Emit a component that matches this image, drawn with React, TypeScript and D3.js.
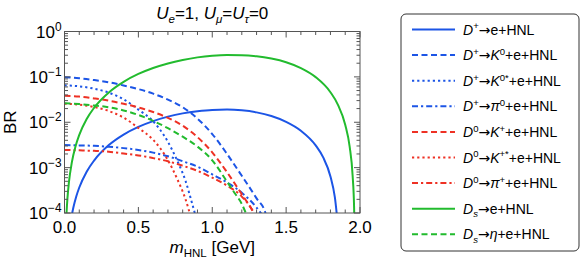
import * as React from 'react';
import * as d3 from 'd3';

// Values (m in GeV, BR)
const xTickValues = [0, 0.5, 1.0, 1.5, 2.0];
const yTickExponents = [0, -1, -2, -3, -4];

// D+ -> e + HNL
const dpE_m = [0.05, 0.06, 0.08, 0.1, 0.15, 0.2, 0.3, 0.4, 0.5, 0.6, 0.7, 0.8, 0.9, 1.0, 1.1, 1.2, 1.3, 1.4, 1.5, 1.6, 1.7, 1.75, 1.8, 1.83, 1.85];
const dpE_br = [9.16e-5, 1.32e-4, 2.34e-4, 3.65e-4, 8.15e-4, 1.43e-3, 3.14e-3, 5.35e-3, 7.91e-3, 0.0106, 0.0133, 0.0157, 0.0175, 0.0187, 0.019, 0.0183, 0.0165, 0.0137, 0.0102, 0.0065, 0.0031, 0.0017, 6.4e-4, 2.2e-4, 5.5e-5];

// D+ -> K0 + e + HNL
const dpK_m = [0, 0.1, 0.2, 0.3, 0.4, 0.5, 0.6, 0.7, 0.8, 0.9, 1.0, 1.1, 1.2, 1.3, 1.36, 1.37];
const dpK_br = [0.098, 0.0933, 0.0851, 0.0759, 0.0646, 0.0537, 0.0427, 0.0316, 0.0214, 0.012, 0.0055, 0.002, 0.00066, 0.00021, 0.0001, 0.00005];

// D+ -> K0* + e + HNL
const dpKs_m = [0, 0.1, 0.2, 0.3, 0.4, 0.5, 0.6, 0.7, 0.76, 0.82, 0.86, 0.89];
const dpKs_br = [0.065, 0.062, 0.055, 0.045, 0.032, 0.019, 0.0105, 0.0037, 0.0015, 0.0005, 0.00018, 0.00008];

// D+ -> pi0 + e + HNL
const dpPi_m = [0, 0.1, 0.2, 0.3, 0.4, 0.5, 0.6, 0.7, 0.8, 0.9, 1.0, 1.1, 1.2, 1.3, 1.34];
const dpPi_br = [3.16e-3, 3.09e-3, 3.02e-3, 2.88e-3, 2.69e-3, 2.45e-3, 2.14e-3, 1.78e-3, 1.38e-3, 1.05e-3, 7.1e-4, 4.7e-4, 2.8e-4, 1.32e-4, 8.9e-5];

// D0 -> K+ + e + HNL
const d0K_m = [0, 0.1, 0.2, 0.3, 0.4, 0.5, 0.6, 0.7, 0.8, 0.9, 1.0, 1.1, 1.2, 1.3, 1.36];
const d0K_br = [0.0386, 0.0368, 0.0335, 0.0299, 0.0255, 0.0212, 0.0168, 0.0125, 0.0084, 0.0047, 0.00217, 0.00079, 0.00026, 0.000083, 0.00004];

// D0 -> K+* + e + HNL
const d0Ks_m = [0, 0.1, 0.2, 0.3, 0.4, 0.5, 0.6, 0.7, 0.76, 0.82, 0.86];
const d0Ks_br = [0.0256, 0.0244, 0.0217, 0.0177, 0.0126, 0.0075, 0.0041, 0.00146, 0.00059, 0.000197, 0.000071];

// D0 -> pi+ + e + HNL
const d0Pi_m = [0, 0.1, 0.2, 0.3, 0.4, 0.5, 0.6, 0.7, 0.8, 0.9, 1.0, 1.1, 1.2, 1.28, 1.3];
const d0Pi_br = [2.45e-3, 2.4e-3, 2.34e-3, 2.24e-3, 2.04e-3, 1.86e-3, 1.62e-3, 1.38e-3, 1.1e-3, 8.5e-4, 6.0e-4, 4.0e-4, 2.3e-4, 1.0e-4, 7e-5];

// Ds -> e + HNL
const dsE_m = [0.01, 0.014, 0.02, 0.03, 0.05, 0.075, 0.1, 0.15, 0.2, 0.3, 0.4, 0.5, 0.6, 0.7, 0.8, 0.9, 1.0, 1.1, 1.2, 1.3, 1.4, 1.5, 1.6, 1.7, 1.8, 1.85, 1.9, 1.93, 1.95, 1.96, 1.965];
const dsE_br = [5.3e-5, 1.04e-4, 2.12e-4, 4.77e-4, 1.32e-3, 2.97e-3, 5.27e-3, 0.0118, 0.0208, 0.0455, 0.0779, 0.116, 0.157, 0.198, 0.236, 0.269, 0.292, 0.303, 0.301, 0.285, 0.253, 0.21, 0.156, 0.0987, 0.0459, 0.0245, 0.0088, 0.0029, 6.7e-4, 1.34e-4, 1.9e-5];

// Ds -> eta + e + HNL
const dsEta_m = [0, 0.1, 0.2, 0.3, 0.4, 0.5, 0.6, 0.7, 0.8, 0.9, 1.0, 1.1, 1.15, 1.2, 1.23];
const dsEta_br = [0.0263, 0.0251, 0.0234, 0.0214, 0.0182, 0.0145, 0.0107, 0.0074, 0.0048, 0.0029, 0.00145, 0.00049, 0.00028, 0.000158, 0.000095];

const FONT = '"Liberation Sans", Arial, Helvetica, sans-serif';
const ARROW_FONT = '"DejaVu Sans", sans-serif';
const BLUE = '#1c55e6';
const RED = '#ee3124';
const GREEN = '#22bb2e';
const DASHED = '6,3.5';
const DOTTED = '2.2,3';
const DASHDOT = '6,3,2.2,3';

type Part = { t: string; s?: 'i' | 'sup' | 'sub' | 'isub' | 'a' };

const AR: Part = { t: '→', s: 'a' };

const series: { m: number[]; br: number[]; color: string; dash: string | null; label: Part[] }[] = [
  { m: dpE_m, br: dpE_br, color: BLUE, dash: null, label: [{ t: 'D', s: 'i' }, { t: '+', s: 'sup' }, AR, { t: 'e+HNL' }] },
  { m: dpK_m, br: dpK_br, color: BLUE, dash: DASHED, label: [{ t: 'D', s: 'i' }, { t: '+', s: 'sup' }, AR, { t: 'K', s: 'i' }, { t: '0', s: 'sup' }, { t: '+e+HNL' }] },
  { m: dpKs_m, br: dpKs_br, color: BLUE, dash: DOTTED, label: [{ t: 'D', s: 'i' }, { t: '+', s: 'sup' }, AR, { t: 'K', s: 'i' }, { t: '0*', s: 'sup' }, { t: '+e+HNL' }] },
  { m: dpPi_m, br: dpPi_br, color: BLUE, dash: DASHDOT, label: [{ t: 'D', s: 'i' }, { t: '+', s: 'sup' }, AR, { t: 'π', s: 'i' }, { t: '0', s: 'sup' }, { t: '+e+HNL' }] },
  { m: d0K_m, br: d0K_br, color: RED, dash: DASHED, label: [{ t: 'D', s: 'i' }, { t: '0', s: 'sup' }, AR, { t: 'K', s: 'i' }, { t: '+', s: 'sup' }, { t: '+e+HNL' }] },
  { m: d0Ks_m, br: d0Ks_br, color: RED, dash: DOTTED, label: [{ t: 'D', s: 'i' }, { t: '0', s: 'sup' }, AR, { t: 'K', s: 'i' }, { t: '+*', s: 'sup' }, { t: '+e+HNL' }] },
  { m: d0Pi_m, br: d0Pi_br, color: RED, dash: DASHDOT, label: [{ t: 'D', s: 'i' }, { t: '0', s: 'sup' }, AR, { t: 'π', s: 'i' }, { t: '+', s: 'sup' }, { t: '+e+HNL' }] },
  { m: dsE_m, br: dsE_br, color: GREEN, dash: null, label: [{ t: 'D', s: 'i' }, { t: 's', s: 'isub' }, AR, { t: 'e+HNL' }] },
  { m: dsEta_m, br: dsEta_br, color: GREEN, dash: DASHED, label: [{ t: 'D', s: 'i' }, { t: 's', s: 'isub' }, AR, { t: 'η', s: 'i' }, { t: '+e+HNL' }] },
];

const titleParts: Part[] = [
  { t: 'U', s: 'i' }, { t: 'e', s: 'isub' }, { t: '=1, ' },
  { t: 'U', s: 'i' }, { t: 'μ', s: 'isub' }, { t: '=' },
  { t: 'U', s: 'i' }, { t: 'τ', s: 'isub' }, { t: '=0' },
];

// text with italic / super / subscript runs
function Rich({ parts, x, y, size, anchor = 'start' }: { parts: Part[]; x: number; y: number; size: number; anchor?: string }) {
  let shift = 0;
  return (
    <text x={x} y={y} fontSize={size} fontFamily={FONT} textAnchor={anchor} fill="#000">
      {parts.map((p, i) => {
        const small = p.s === 'sup' || p.s === 'sub' || p.s === 'isub';
        const target = p.s === 'sup' ? -0.36 * size : small ? 0.24 * size : 0;
        const dy = target - shift;
        shift = target;
        return (
          <tspan key={i} dy={dy} fontSize={small ? size * 0.68 : size}
            fontFamily={p.s === 'a' ? ARROW_FONT : undefined}
            fontStyle={p.s === 'i' || p.s === 'isub' ? 'italic' : 'normal'}>{p.t}</tspan>
        );
      })}
    </text>
  );
}

const W = 581, H = 265;
const margin = { left: 64.5, right: 221, top: 31.5, bottom: 52 };

export default function App() {
  const x0 = margin.left, x1 = W - margin.right;
  const y0 = margin.top, y1 = H - margin.bottom;

  const x = d3.scaleLinear().domain([0, 2]).range([x0, x1]);
  const y = d3.scaleLog().domain([1e-4, 1]).range([y1, y0]);

  const line = d3.line<[number, number]>()
    .x(d => x(d[0]))
    .y(d => y(d[1]))
    .curve(d3.curveMonotoneX);

  const xMinor = d3.range(0, 2.0001, 0.1);
  const yMinor: number[] = [];
  yTickExponents.slice(1).forEach(e => {
    for (let k = 2; k <= 9; k++) yMinor.push(k * Math.pow(10, e));
  });

  const major = 6, minor = 3.5;
  const axisColor = '#555';
  const tickFont = 17;

  const legX = 401, legY = 14, legW = 178, legH = 237;
  const rowY = (i: number) => 29.5 + i * 25.6;

  return (
    <svg width={W} height={H} style={{ position: 'absolute', left: 0, top: 0, background: '#fff' }}>
      <defs>
        <clipPath id="plot-clip">
          <rect x={x0} y={y0} width={x1 - x0} height={y1 - y0} />
        </clipPath>
      </defs>

      {/* curves */}
      <g clipPath="url(#plot-clip)">
        {series.map((s, i) => (
          <path key={i}
            d={line(s.m.map((m, j) => [m, s.br[j]] as [number, number])) ?? ''}
            fill="none" stroke={s.color} strokeWidth={2}
            strokeDasharray={s.dash ?? undefined} />
        ))}
      </g>

      {/* frame and ticks */}
      <rect x={x0} y={y0} width={x1 - x0} height={y1 - y0} fill="none" stroke={axisColor} strokeWidth={1} />
      <g stroke={axisColor} strokeWidth={1}>
        {xMinor.map((v, i) => {
          const len = i % 5 === 0 ? major : minor;
          const px = x(v);
          return (
            <g key={'xt' + i}>
              <line x1={px} x2={px} y1={y1} y2={y1 - len} />
              <line x1={px} x2={px} y1={y0} y2={y0 + len} />
            </g>
          );
        })}
        {yTickExponents.map(e => {
          const py = y(Math.pow(10, e));
          return (
            <g key={'yt' + e}>
              <line x1={x0} x2={x0 + major} y1={py} y2={py} />
              <line x1={x1} x2={x1 - major} y1={py} y2={py} />
            </g>
          );
        })}
        {yMinor.map((v, i) => {
          const py = y(v);
          return (
            <g key={'ym' + i}>
              <line x1={x0} x2={x0 + minor} y1={py} y2={py} />
              <line x1={x1} x2={x1 - minor} y1={py} y2={py} />
            </g>
          );
        })}
      </g>

      {/* tick labels */}
      {xTickValues.map(v => (
        <text key={'xl' + v} x={x(v)} y={y1 + 20} fontSize={tickFont} fontFamily={FONT} textAnchor="middle">
          {d3.format('.1f')(v)}
        </text>
      ))}
      {yTickExponents.map(e => (
        <text key={'yl' + e} x={x0 - 3} y={y(Math.pow(10, e)) + 6} fontSize={tickFont} fontFamily={FONT} textAnchor="end">
          10<tspan dy={-7} fontSize={tickFont * 0.7}>{e === 0 ? '0' : '−' + Math.abs(e)}</tspan>
        </text>
      ))}

      {/* title and axis labels */}
      <Rich parts={titleParts} x={(x0 + x1) / 2} y={19} size={17} anchor="middle" />
      <g transform={`translate(16,${(y0 + y1) / 2}) rotate(-90)`}>
        <text x={0} y={0} fontSize={tickFont} fontFamily={FONT} textAnchor="middle">BR</text>
      </g>
      <Rich parts={[{ t: 'm', s: 'i' }, { t: 'HNL', s: 'sub' }, { t: ' [GeV]' }]} x={(x0 + x1) / 2} y={253} size={tickFont} anchor="middle" />

      {/* legend */}
      <rect x={legX} y={legY} width={legW} height={legH} rx={5} ry={5} fill="#fff" stroke="#333" strokeWidth={1} />
      {series.map((s, i) => (
        <g key={'lg' + i}>
          <line x1={412} x2={455} y1={rowY(i)} y2={rowY(i)} stroke={s.color} strokeWidth={2}
            strokeDasharray={s.dash ?? undefined} />
          <Rich parts={s.label} x={463} y={rowY(i) + 5} size={14} />
        </g>
      ))}
    </svg>
  );
}
